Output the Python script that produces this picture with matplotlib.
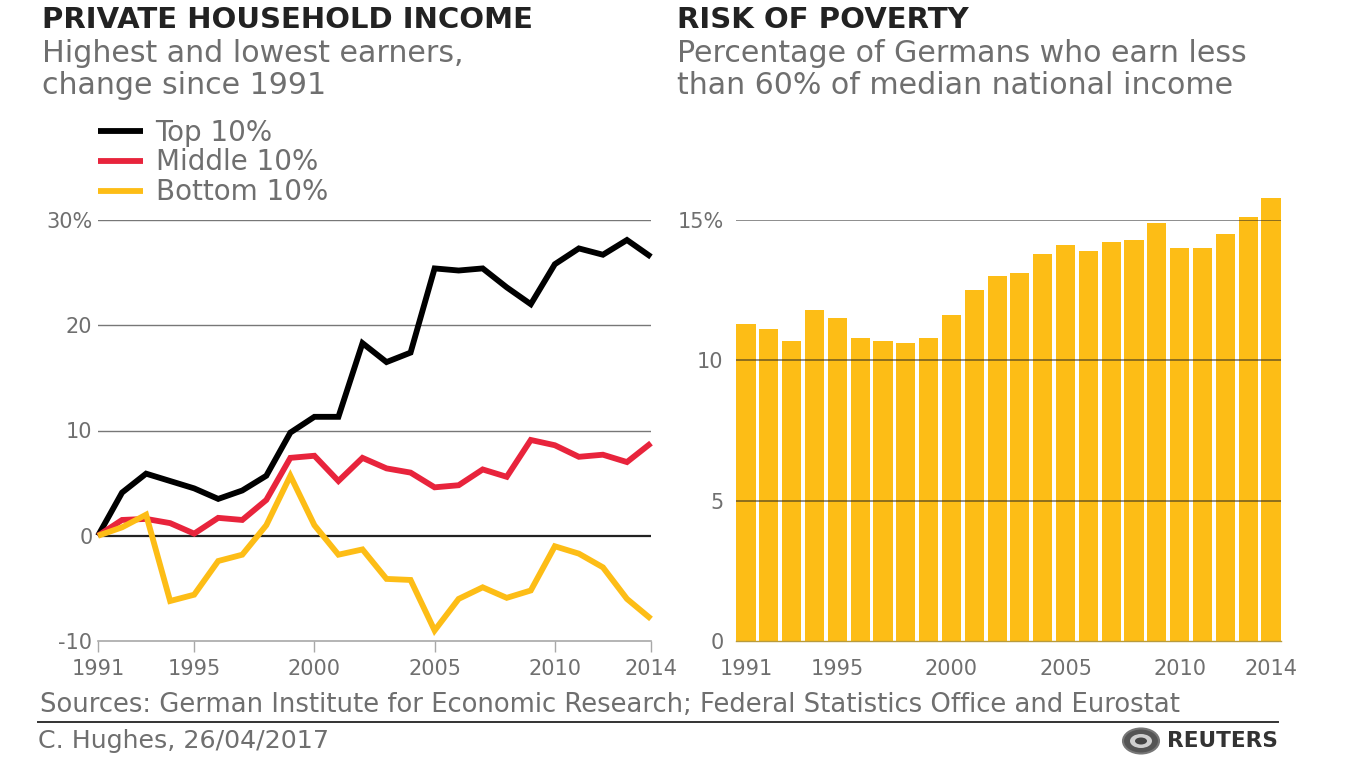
import matplotlib
matplotlib.use("Agg")
import matplotlib.pyplot as plt
from matplotlib.patches import Ellipse

years = list(range(1991, 2015))
top_10 = [0, 4.1, 5.9, 5.2, 4.5, 3.5, 4.3, 5.7, 9.8, 11.3, 11.3, 18.3,
          16.5, 17.4, 25.4, 25.2, 25.4, 23.6, 22.0, 25.8, 27.3, 26.7, 28.1, 26.5]
middle_10 = [0, 1.5, 1.6, 1.2, 0.2, 1.7, 1.5, 3.4, 7.4, 7.6, 5.2, 7.4,
             6.4, 6.0, 4.6, 4.8, 6.3, 5.6, 9.1, 8.6, 7.5, 7.7, 7.0, 8.8]
bottom_10 = [0, 0.8, 2.0, -6.2, -5.6, -2.4, -1.8, 1.0, 5.7, 1.0, -1.8, -1.3,
             -4.1, -4.2, -9.0, -6.0, -4.9, -5.9, -5.2, -1.0, -1.7, -3.0, -6.0, -7.9]
poverty = [11.3, 11.1, 10.7, 11.8, 11.5, 10.8, 10.7, 10.6, 10.8, 11.6, 12.5, 13.0,
           13.1, 13.8, 14.1, 13.9, 14.2, 14.3, 14.9, 14.0, 14.0, 14.5, 15.1, 15.8]
year_ticks = [1991, 1995, 2000, 2005, 2010, 2014]
left_yticks = [-10, 0, 10, 20, 30]
left_ylabels = ["-10", "0", "10", "20", "30%"]
right_yticks = [0, 5, 10, 15]
right_ylabels = ["0", "5", "10", "15%"]

BLACK = "#000000"
RED = "#e8243c"
YELLOW = "#fdbd16"
GREY = "#6f6f6f"
W, H = 1366, 768

plt.rcParams["font.family"] = ["DejaVu Sans"]


def px_axes(fig, x0, x1, y_top, y_bottom):
    return fig.add_axes([x0 / W, 1 - y_bottom / H, (x1 - x0) / W, (y_bottom - y_top) / H])


def ftext(fig, x, y, s, **kwargs):
    return fig.text(x / W, 1 - y / H, s, va="center", **kwargs)


fig = plt.figure(figsize=(W / 100, H / 100), dpi=100, facecolor="white")

# left panel
ax = px_axes(fig, 98, 651, 220, 641)
ax.set_xlim(1991, 2014)
ax.set_ylim(-10, 30)
for v in left_yticks[1:]:
    ax.axhline(v, color="#222222" if v == 0 else "#777777", lw=1.6 if v == 0 else 1.0, zorder=1)
line_opts = dict(lw=4.2, clip_on=False, solid_joinstyle="miter", solid_capstyle="butt")
line_top, = ax.plot(years, top_10, color=BLACK, label="Top 10%", zorder=3, **line_opts)
line_mid, = ax.plot(years, middle_10, color=RED, label="Middle 10%", zorder=4, **line_opts)
line_bot, = ax.plot(years, bottom_10, color=YELLOW, label="Bottom 10%", zorder=5, **line_opts)
for s in ["top", "left", "right"]:
    ax.spines[s].set_visible(False)
ax.spines["bottom"].set_color("#a8a8a8")
ax.spines["bottom"].set_linewidth(1.2)
ax.set_xticks(year_ticks)
ax.tick_params(axis="x", length=8, width=1.0, color="#a8a8a8", labelcolor=GREY, labelsize=15, pad=5)
ax.set_yticks(left_yticks)
ax.set_yticklabels(left_ylabels)
ax.tick_params(axis="y", length=0, labelcolor=GREY, labelsize=15, pad=4)
ax.set_facecolor("none")

fig.legend(handles=[line_top, line_mid, line_bot], loc="upper left",
           bbox_to_anchor=(92 / W, 1 - 113 / H), frameon=False, fontsize=20,
           labelcolor=GREY, handlelength=1.62, handletextpad=0.47, labelspacing=0.07,
           borderpad=0.2, borderaxespad=0)

# right panel
ax2 = px_axes(fig, 736, 1281, 220, 641)
ax2.bar(years, poverty, width=0.84, color=YELLOW, zorder=2, clip_on=False)
ax2.set_xlim(1990.56, 2014.44)
ax2.set_ylim(0, 15)
for v in right_yticks[1:]:
    ax2.axhline(v, color="#222222", alpha=0.65, lw=1.1, zorder=3)
for s in ["top", "left", "right"]:
    ax2.spines[s].set_visible(False)
ax2.spines["bottom"].set_color("#b89a3c")
ax2.spines["bottom"].set_linewidth(1.0)
ax2.set_xticks(year_ticks)
ax2.tick_params(axis="x", length=0, labelcolor=GREY, labelsize=15, pad=13)
ax2.set_yticks(right_yticks)
ax2.set_yticklabels(right_ylabels)
ax2.tick_params(axis="y", length=0, labelcolor=GREY, labelsize=15, pad=9)

# headings
ftext(fig, 42, 20, "PRIVATE HOUSEHOLD INCOME", fontsize=21, fontweight="bold", color="#222222")
ftext(fig, 42, 53, "Highest and lowest earners,", fontsize=21.6, color=GREY)
ftext(fig, 42, 85, "change since 1991", fontsize=21.6, color=GREY)
ftext(fig, 677, 20, "RISK OF POVERTY", fontsize=21, fontweight="bold", color="#222222")
ftext(fig, 677, 53, "Percentage of Germans who earn less", fontsize=21.6, color=GREY)
ftext(fig, 677, 85, "than 60% of median national income", fontsize=21.6, color=GREY)

# footer
ftext(fig, 40, 705, "Sources: German Institute for Economic Research; Federal Statistics Office and Eurostat",
      fontsize=18.6, color=GREY)
fig.add_artist(plt.Line2D([38 / W, 1278 / W], [1 - 722 / H, 1 - 722 / H], color="#333333", lw=1.4))
ftext(fig, 38, 741, "C. Hughes, 26/04/2017", fontsize=18.2, color=GREY)
ftext(fig, 1167, 741, "REUTERS", fontsize=15.6, fontweight="bold", color="#333333")
logo_ax = px_axes(fig, 1118, 1166, 724, 758)
logo_ax.set_xlim(1118, 1166)
logo_ax.set_ylim(758, 724)
logo_ax.axis("off")
logo_ax.add_patch(Ellipse((1141, 741), 36, 25, fc="#555555", ec="#777777", lw=1.5))
logo_ax.add_patch(Ellipse((1141, 741), 22, 14, fc="#cfcfcf", ec="none"))
logo_ax.add_patch(Ellipse((1141, 741), 12, 7, fc="#444444", ec="none"))

fig.savefig("out.png", dpi=100)
